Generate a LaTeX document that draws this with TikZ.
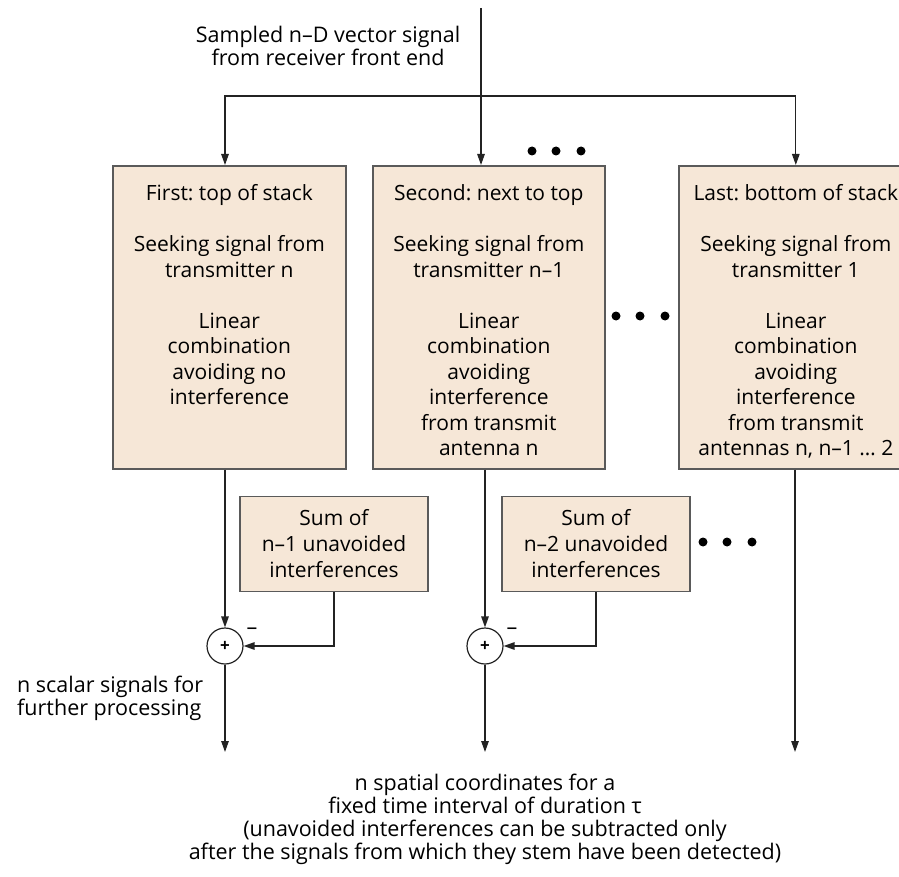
\documentclass[tikz,border=0pt]{standalone}
\usepackage{fontspec}
\setmainfont{Open Sans}
\usetikzlibrary{arrows.meta,positioning}
\definecolor{boxfill}{RGB}{246,231,215}
\definecolor{boxline}{RGB}{90,90,90}
\definecolor{wirecol}{RGB}{35,35,35}
\newcommand{\stacktext}[2]{\parbox[c][303pt][t]{#1}{\centering\rule{0pt}{35pt}#2}}
\frenchspacing

\begin{document}
\begin{tikzpicture}[x=1pt,y=-1pt,font=\fontsize{21}{25.5}\selectfont,
	stack/.style={draw=boxline,fill=boxfill,line width=1.6pt,inner sep=0pt,anchor=north west},
	sumbox/.style={draw=boxline,fill=boxfill,line width=1.6pt,inner sep=0pt,align=center,
		minimum width=188pt,minimum height=95pt,font=\fontsize{21}{26}\selectfont},
	adder/.style={circle,draw=wirecol,line width=1.2pt,fill=white,minimum size=36pt,inner sep=0pt,
		font=\fontsize{17}{17}\selectfont\bfseries},
	lbl/.style={font=\fontsize{21.5}{23}\selectfont,inner sep=0pt},
	wire/.style={draw=wirecol,line width=1.3pt},
	sig/.style={wire,-{Triangle[length=11pt,width=7.5pt]}}]
	\useasboundingbox (0,0) rectangle (899,877);
	\clip (0,0) rectangle (899,877);

	%STACK BOXES
	\node[stack] (box1) at (112,165) {\stacktext{233pt}{First: top of stack\\[25.5pt]
		Seeking signal from\\ transmitter n\\[25.5pt]
		Linear\\ combination\\ avoiding no\\ interference}};
	\node[stack] (box2) at (372,165) {\stacktext{232pt}{Second: next to top\\[25.5pt]
		Seeking signal from\\ transmitter n--1\\[25.5pt]
		Linear\\ combination\\ avoiding\\ interference\\ from transmit\\ antenna n}};
	\node[stack] (box3) at (678,165) {\stacktext{234pt}{Last: bottom of stack\\[25.5pt]
		Seeking signal from\\ transmitter 1\\[25.5pt]
		Linear\\ combination\\ avoiding\\ interference\\ from transmit\\ antennas n, n--1 … 2}};

	%INTERFERENCE SUMS
	\node[sumbox] (sum1) at (334,544) {Sum of\\ n--1 unavoided\\ interferences};
	\node[sumbox] (sum2) at (596,544) {Sum of\\ n--2 unavoided\\ interferences};

	%ADDERS
	\node[adder] (add1) at (225,646) {+};
	\node[adder] (add2) at (485,646) {+};
	\node[lbl] (minus1) at (252,631) {--};
	\node[lbl] (minus2) at (512,631) {--};

	%LABELS
	\node[lbl,align=center] (source) at (328,46) {Sampled n--D vector signal\\ from receiver front end};
	\node[lbl,align=left,anchor=west] (scalar) at (17,698) {n scalar signals for\\ further processing};
	\node[lbl,align=center] (coords) at (485,819) {n spatial coordinates for a\\
		fixed time interval of duration τ\\
		(unavoided interferences can be subtracted only\\
		after the signals from which they stem have been detected)};

	%INPUT
	\coordinate (in) at (481,8);
	\coordinate (split) at (481,96);
	\draw[wire] (in) -- (split);
	\draw[sig] (split) -- (split |- box2.north);
	\draw[sig] (split) -| (add1 |- box1.north);
	\draw[sig] (split) -| (box3.north);

	%OUTPUTS
	\coordinate (out1) at (225,752);
	\coordinate (out2) at (485,752);
	\coordinate (out3) at (795,752);
	\draw[sig] (add1 |- box1.south) -- (add1);
	\draw[sig] (add2 |- box2.south) -- (add2);
	\draw[sig] (sum1.south) |- (add1);
	\draw[sig] (sum2.south) |- (add2);
	\draw[sig] (add1) -- (out1);
	\draw[sig] (add2) -- (out2);
	\draw[sig] (out3 |- box3.south) -- (out3);

	%DOTS
	\foreach \x in {532,556,581} \fill (\x,151) circle (4.5pt);
	\foreach \x in {616,640,665} \fill (\x,316) circle (4.5pt);
	\foreach \x in {703,727,752} \fill (\x,542) circle (4.5pt);
\end{tikzpicture}
\end{document}
